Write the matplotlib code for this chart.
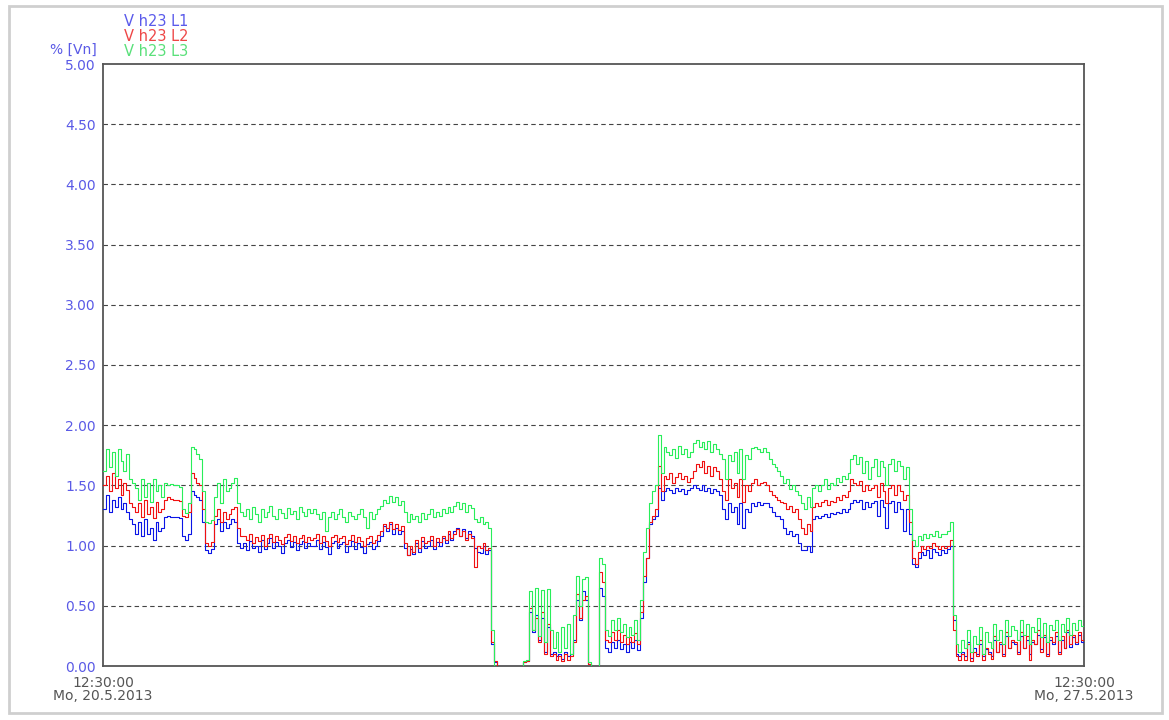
import numpy as np
import pandas as pd
import matplotlib
matplotlib.use("Agg")
import matplotlib.pyplot as plt
import matplotlib.dates as mdates
from matplotlib.patches import Rectangle

# ---------------- data (30-minute values, % of Vn) ----------------
start = pd.Timestamp("2013-05-20 12:30:00")
end = pd.Timestamp("2013-05-27 12:30:00")
step_minutes = 30

l3_values = [
    1.62,1.80,1.65,1.78,1.58,1.80,1.70,1.62,1.76,1.55,1.52,1.48,1.38,1.55,1.40,1.52,1.36,1.55,1.45,1.50,1.40,1.52,1.50,1.51,
    1.50,1.50,1.49,1.30,1.27,1.35,1.82,1.80,1.76,1.72,1.45,1.20,1.19,1.21,1.40,1.52,1.35,1.55,1.45,1.48,1.52,1.56,1.35,1.28,
    1.25,1.30,1.22,1.32,1.26,1.20,1.30,1.24,1.28,1.33,1.25,1.22,1.30,1.27,1.23,1.31,1.26,1.29,1.22,1.32,1.28,1.25,1.30,1.27,
    1.30,1.26,1.22,1.28,1.12,1.24,1.28,1.22,1.26,1.30,1.24,1.20,1.28,1.25,1.22,1.26,1.30,1.24,1.15,1.28,1.22,1.26,1.30,1.33,
    1.38,1.35,1.41,1.36,1.40,1.34,1.37,1.28,1.20,1.26,1.22,1.25,1.20,1.27,1.22,1.26,1.30,1.24,1.28,1.25,1.30,1.27,1.32,1.28,
    1.33,1.36,1.30,1.35,1.28,1.34,1.31,1.22,1.20,1.24,1.18,1.20,1.15,0.30,0.00,0.00,0.00,0.00,0.00,0.00,0.00,0.00,0.00,0.00,
    0.04,0.05,0.62,0.30,0.65,0.25,0.63,0.20,0.64,0.30,0.15,0.28,0.12,0.32,0.15,0.35,0.10,0.42,0.75,0.50,0.72,0.74,0.03,0.00,
    0.00,0.00,0.90,0.85,0.30,0.25,0.38,0.30,0.40,0.28,0.35,0.24,0.32,0.26,0.38,0.22,0.55,0.95,1.15,1.35,1.45,1.50,1.92,1.60,
    1.82,1.78,1.75,1.80,1.73,1.83,1.76,1.80,1.74,1.78,1.85,1.88,1.82,1.86,1.80,1.87,1.78,1.84,1.80,1.76,1.72,1.55,1.75,1.70,
    1.78,1.60,1.80,1.55,1.75,1.72,1.81,1.82,1.80,1.78,1.81,1.78,1.72,1.68,1.65,1.62,1.58,1.52,1.55,1.47,1.50,1.45,1.42,1.35,
    1.30,1.40,1.32,1.48,1.50,1.45,1.50,1.55,1.47,1.52,1.50,1.56,1.53,1.58,1.55,1.60,1.72,1.75,1.68,1.74,1.60,1.70,1.55,1.65,
    1.72,1.58,1.70,1.65,1.50,1.68,1.72,1.62,1.70,1.66,1.55,1.65,1.30,1.05,1.00,1.08,1.05,1.10,1.06,1.10,1.08,1.12,1.07,1.10,
    1.10,1.12,1.20,0.42,0.18,0.12,0.22,0.15,0.30,0.12,0.25,0.18,0.32,0.10,0.28,0.20,0.15,0.35,0.22,0.30,0.18,0.38,0.25,0.33,
    0.30,0.22,0.38,0.26,0.35,0.18,0.32,0.28,0.40,0.24,0.36,0.20,0.34,0.30,0.38,0.22,0.35,0.28,0.40,0.26,0.36,0.30,0.38,0.33,
    0.40,
]

l2_values = [
    1.50,1.58,1.45,1.60,1.48,1.55,1.42,1.52,1.46,1.35,1.32,1.28,1.35,1.24,1.38,1.26,1.32,1.23,1.36,1.28,1.30,1.38,1.40,1.39,
    1.38,1.38,1.37,1.25,1.24,1.28,1.60,1.56,1.52,1.50,1.30,1.02,1.00,1.03,1.25,1.30,1.20,1.28,1.22,1.26,1.30,1.32,1.15,1.08,
    1.08,1.05,1.10,1.02,1.07,1.04,1.09,1.00,1.06,1.10,1.03,1.08,1.05,1.01,1.07,1.10,1.04,1.08,1.02,1.06,1.09,1.03,1.07,1.05,
    1.06,1.10,1.02,1.08,1.04,1.00,1.07,1.09,1.03,1.06,1.08,1.01,1.05,1.09,1.03,1.07,1.04,1.00,1.06,1.08,1.02,1.05,1.09,1.12,
    1.18,1.15,1.20,1.14,1.18,1.13,1.16,1.02,0.92,1.00,0.95,1.05,0.98,1.07,1.02,1.04,1.08,1.00,1.06,1.03,1.08,1.05,1.12,1.06,
    1.10,1.14,1.08,1.12,1.05,1.10,1.06,0.82,1.00,0.98,1.02,0.96,0.98,0.20,0.04,0.00,0.00,0.00,0.00,0.00,0.00,0.00,0.00,0.00,
    0.03,0.04,0.48,0.30,0.40,0.20,0.45,0.10,0.35,0.08,0.10,0.05,0.08,0.04,0.10,0.05,0.08,0.20,0.60,0.40,0.55,0.58,0.02,0.00,
    0.00,0.00,0.78,0.70,0.22,0.20,0.28,0.22,0.30,0.20,0.26,0.18,0.24,0.20,0.27,0.18,0.45,0.75,0.90,1.20,1.25,1.30,1.66,1.45,
    1.58,1.55,1.60,1.52,1.57,1.60,1.55,1.58,1.53,1.56,1.62,1.68,1.65,1.70,1.60,1.66,1.58,1.65,1.62,1.55,1.45,1.38,1.55,1.48,
    1.52,1.40,1.55,1.36,1.50,1.45,1.52,1.55,1.50,1.52,1.53,1.50,1.45,1.42,1.40,1.38,1.36,1.35,1.30,1.33,1.28,1.30,1.22,1.15,
    1.10,1.18,1.12,1.32,1.35,1.33,1.36,1.38,1.34,1.37,1.36,1.40,1.38,1.42,1.40,1.45,1.55,1.52,1.50,1.54,1.45,1.50,1.46,1.48,
    1.50,1.40,1.52,1.45,1.35,1.48,1.50,1.42,1.50,1.45,1.38,1.42,1.20,0.90,0.85,0.95,1.00,0.97,1.00,0.98,1.02,1.00,0.97,1.00,
    0.98,1.00,1.05,0.30,0.08,0.05,0.10,0.05,0.18,0.04,0.12,0.08,0.22,0.05,0.15,0.10,0.06,0.25,0.12,0.20,0.08,0.28,0.15,0.22,
    0.20,0.10,0.28,0.15,0.25,0.05,0.22,0.18,0.30,0.12,0.26,0.08,0.24,0.20,0.28,0.10,0.25,0.15,0.30,0.18,0.26,0.20,0.28,0.22,
    0.32,
]

l1_values = [
    1.30,1.42,1.28,1.38,1.32,1.40,1.30,1.35,1.28,1.22,1.18,1.10,1.20,1.08,1.22,1.10,1.15,1.05,1.20,1.12,1.15,1.24,1.25,1.24,
    1.24,1.24,1.23,1.08,1.05,1.10,1.45,1.42,1.40,1.38,1.20,0.96,0.94,0.97,1.18,1.22,1.12,1.20,1.15,1.18,1.22,1.20,1.02,0.98,
    1.02,0.96,1.04,0.98,1.00,0.95,1.05,0.97,1.02,1.06,0.98,1.03,1.00,0.94,1.02,1.05,0.99,1.03,0.96,1.01,1.04,0.98,1.02,1.00,
    1.00,1.05,0.97,1.03,0.99,0.93,1.02,1.04,0.98,1.01,1.03,0.95,1.00,1.04,0.97,1.02,0.99,0.94,1.01,1.03,0.97,1.00,1.04,1.08,
    1.16,1.12,1.18,1.10,1.15,1.10,1.12,0.98,0.92,0.97,0.93,1.02,0.95,1.04,0.98,1.00,1.05,0.97,1.03,1.00,1.06,1.02,1.10,1.05,
    1.12,1.15,1.08,1.14,1.06,1.12,1.08,0.98,0.95,0.94,1.00,0.93,0.96,0.18,0.03,0.00,0.00,0.00,0.00,0.00,0.00,0.00,0.00,0.00,
    0.03,0.04,0.45,0.28,0.42,0.22,0.40,0.12,0.32,0.10,0.12,0.08,0.10,0.06,0.12,0.08,0.10,0.22,0.55,0.38,0.62,0.55,0.02,0.00,
    0.00,0.00,0.65,0.58,0.15,0.12,0.20,0.15,0.22,0.14,0.18,0.12,0.20,0.15,0.22,0.13,0.40,0.70,0.90,1.18,1.22,1.25,1.48,1.38,
    1.45,1.48,1.46,1.44,1.48,1.45,1.47,1.43,1.46,1.48,1.50,1.48,1.46,1.50,1.45,1.48,1.44,1.47,1.45,1.42,1.30,1.22,1.35,1.28,
    1.32,1.18,1.35,1.15,1.30,1.28,1.35,1.33,1.36,1.34,1.35,1.35,1.32,1.28,1.25,1.25,1.22,1.15,1.10,1.12,1.08,1.10,1.02,0.96,
    0.96,1.00,0.95,1.22,1.25,1.23,1.25,1.26,1.24,1.27,1.26,1.28,1.27,1.30,1.28,1.30,1.35,1.38,1.36,1.38,1.30,1.36,1.32,1.35,
    1.37,1.25,1.38,1.32,1.15,1.35,1.37,1.28,1.36,1.30,1.12,1.30,1.10,0.85,0.82,0.90,0.95,0.92,0.96,0.90,0.97,0.95,0.92,0.96,
    0.94,0.97,1.00,0.38,0.10,0.08,0.12,0.08,0.20,0.07,0.15,0.10,0.18,0.08,0.14,0.12,0.08,0.22,0.12,0.18,0.10,0.25,0.15,0.20,
    0.18,0.12,0.25,0.15,0.22,0.10,0.20,0.18,0.26,0.14,0.24,0.10,0.22,0.18,0.25,0.12,0.22,0.15,0.28,0.16,0.24,0.18,0.26,0.20,
    0.30,
]

series_names = ["V h23 L1", "V h23 L2", "V h23 L3"]
series_values = [l1_values, l2_values, l3_values]
line_colors = ["#0a14e6", "#f01010", "#28ee5a"]
label_colors = ["#5a5aeb", "#ee4646", "#5ae07a"]
y_ticks = [0.0, 0.5, 1.0, 1.5, 2.0, 2.5, 3.0, 3.5, 4.0, 4.5, 5.0]
y_unit = "% [Vn]"
x_tick_labels = ["12:30:00\nMo, 20.5.2013", "12:30:00\nMo, 27.5.2013"]

# ---------------- figure ----------------
W, H, DPI = 1169, 720, 100
fig = plt.figure(figsize=(W / DPI, H / DPI), dpi=DPI, facecolor="white")
plt.rcParams["font.family"] = ["DejaVu Sans"]

# window frame
fig.patches.append(Rectangle((9 / W, 1 - 713 / H), (1162 - 9) / W, (713 - 6) / H,
                             transform=fig.transFigure, fill=False,
                             edgecolor="#cfcfcf", linewidth=2.0, zorder=0))

ax = fig.add_axes([103 / W, 1 - 666 / H, (1084 - 103) / W, (666 - 64) / H])

for vals, col in zip(series_values, line_colors):
    t = pd.date_range(start, periods=len(vals), freq=f"{step_minutes}min")
    ax.plot(t, vals, drawstyle="steps-post", color=col, linewidth=0.8,
            snap=True, zorder=3)

ax.set_xlim(start, end)
ax.set_ylim(0, 5)

for yv in y_ticks[1:-1]:
    ax.axhline(yv, color="#444444", linestyle=(0, (4, 3)), linewidth=0.8, zorder=1)

ax.set_yticks(y_ticks)
ax.set_yticklabels([f"{v:.2f}" for v in y_ticks], color="#5a5ae6", fontsize=10)
ax.tick_params(axis="y", length=0, pad=5)

ax.set_xticks([mdates.date2num(start), mdates.date2num(end)])
ax.set_xticklabels(x_tick_labels, color="#555555", fontsize=10, linespacing=0.95)
ax.tick_params(axis="x", length=0, pad=7)

for s in ax.spines.values():
    s.set_color("#555555")
    s.set_linewidth(1.3)

# unit label and series labels
fig.text(97 / W, 1 - 50 / H, y_unit, color="#5a5ae6", fontsize=10, ha="right", va="center")
for i, (name, col) in enumerate(zip(series_names, label_colors)):
    fig.text(124 / W, 1 - (22 + 14.5 * i) / H, name, color=col, fontsize=10.5,
             ha="left", va="center")

fig.savefig("out.png", dpi=DPI, facecolor="white")
